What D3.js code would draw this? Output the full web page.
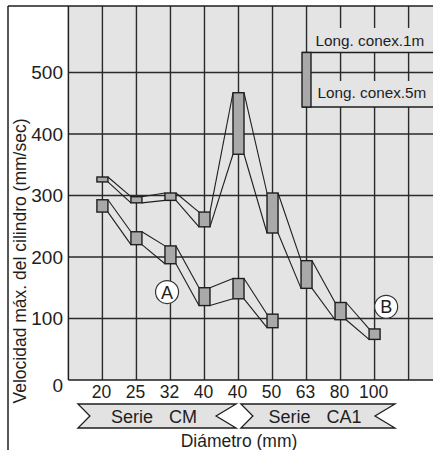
<!DOCTYPE html>
<html><head><meta charset="utf-8">
<script src="https://cdn.jsdelivr.net/npm/d3@7"></script>
<style>html,body{margin:0;padding:0;background:#fff;}svg{display:block;font-family:"Liberation Sans",Arial,Helvetica,sans-serif;}</style>
</head><body><div id="chart"></div>
<script>
// ---- data ----
const categories = ["20","25","32","40","40","50","63","80","100"];
// upper curve (B): top of box = Long. conex. 1m, bottom = Long. conex. 5m
const seriesB_1m = [330, 298, 304, 273, 467, 304, 194, 126, 83];
const seriesB_5m = [322, 288, 292, 249, 367, 239, 149, 98, 66];
// lower curve (A)
const seriesA_1m = [293, 241, 218, 150, 165, 107];
const seriesA_5m = [273, 220, 189, 121, 132, 85];
const yTicks = [0, 100, 200, 300, 400, 500];
const seriesNames = ["CM", "CA1"];
const seriesSpans = [[0.28, 4.93], [5.07, 9.6]];
const legendLabels = ["Long. conex.1m", "Long. conex.5m"];
const yTitle = "Velocidad máx. del cilindro (mm/sec)";
const xTitle = "Diámetro (mm)";

// ---- layout ----
const W = 433, H = 450;
const pL = 68.4, pT = 6, pB = 380, pR = 433;
const plotBg = "#e4e4e4", boxFill = "#a9a9a9", ink = "#1e1e1e";

const x = d3.scaleLinear().domain([0, 10]).range([pL, 408.6]);
const y = d3.scaleLinear().domain([0, 608]).range([pB, pT]);
const cx = i => x(i + 1);
const bw = 11;

const svg = d3.select("#chart").append("svg").attr("width", W).attr("height", H);

// plot background
svg.append("rect").attr("x", pL).attr("y", pT).attr("width", pR - pL).attr("height", pB - pT).attr("fill", plotBg);

// grid
const g = svg.append("g").attr("stroke", "#2a2a2a").attr("stroke-width", 1.4);
g.selectAll("line.v").data(d3.range(1, 11)).enter().append("line")
  .attr("x1", d => x(d)).attr("x2", d => x(d)).attr("y1", pT).attr("y2", pB);
g.selectAll("line.h").data(yTicks.filter(d => d > 0)).enter().append("line")
  .attr("x1", pL).attr("x2", pR).attr("y1", d => y(d)).attr("y2", d => y(d));

// legend (with plot-coloured background behind the labels)
const lg = svg.append("g");
lg.append("rect").attr("x", 313).attr("y", 28).attr("width", 120).attr("height", 24).attr("fill", plotBg);
lg.append("rect").attr("x", 314).attr("y", 81).attr("width", 119).attr("height", 26).attr("fill", plotBg);
lg.append("line").attr("x1", 302).attr("x2", pR).attr("y1", 52.5).attr("y2", 52.5).attr("stroke", ink).attr("stroke-width", 1.4);
lg.append("line").attr("x1", 302).attr("x2", pR).attr("y1", 107).attr("y2", 107).attr("stroke", ink).attr("stroke-width", 1.4);
lg.append("rect").attr("x", 302).attr("y", 52.5).attr("width", 9).attr("height", 54.5)
  .attr("fill", boxFill).attr("stroke", ink).attr("stroke-width", 1.4);
lg.append("text").attr("x", 315.5).attr("y", 46).attr("font-size", 15.3).attr("fill", ink).text(legendLabels[0]);
lg.append("text").attr("x", 317.5).attr("y", 97.5).attr("font-size", 15.3).attr("fill", ink).text(legendLabels[1]);

// bands
function drawBand(hi, lo) {
  const n = hi.length;
  const bg = svg.append("g");
  const segs = [];
  for (let i = 0; i < n - 1; i++) {
    segs.push([cx(i) + bw / 2, y(hi[i]), cx(i + 1) - bw / 2, y(hi[i + 1])]);
    segs.push([cx(i) + bw / 2, y(lo[i]), cx(i + 1) - bw / 2, y(lo[i + 1])]);
  }
  bg.selectAll("line").data(segs).enter().append("line")
    .attr("x1", d => d[0]).attr("y1", d => d[1]).attr("x2", d => d[2]).attr("y2", d => d[3])
    .attr("stroke", ink).attr("stroke-width", 1.1);
  bg.selectAll("rect").data(d3.range(n)).enter().append("rect")
    .attr("x", i => cx(i) - bw / 2).attr("width", bw)
    .attr("y", i => y(hi[i])).attr("height", i => y(lo[i]) - y(hi[i]))
    .attr("fill", boxFill).attr("stroke", ink).attr("stroke-width", 1.4);
}
drawBand(seriesB_1m, seriesB_5m);
drawBand(seriesA_1m, seriesA_5m);

// circled labels
const marks = [{t: "A", i: 2.9, v: 143}, {t: "B", i: 9.34, v: 119}];
const mg = svg.append("g");
marks.forEach(m => {
  mg.append("circle").attr("cx", x(m.i)).attr("cy", y(m.v)).attr("r", 11.5)
    .attr("fill", "#fff").attr("stroke", "#333").attr("stroke-width", 1.2);
  mg.append("text").attr("x", x(m.i)).attr("y", y(m.v)).attr("dy", "0.36em")
    .attr("text-anchor", "middle").attr("font-size", 18).attr("fill", ink).text(m.t);
});

// axis lines and frame
svg.append("line").attr("x1", pL).attr("x2", pL).attr("y1", pT).attr("y2", pB).attr("stroke", ink).attr("stroke-width", 1.5);
svg.append("line").attr("x1", pL).attr("x2", pR).attr("y1", pB).attr("y2", pB).attr("stroke", ink).attr("stroke-width", 1.5);
svg.append("line").attr("x1", 8).attr("x2", W).attr("y1", 6).attr("y2", 6).attr("stroke", ink).attr("stroke-width", 1.5);
svg.append("line").attr("x1", 8).attr("x2", 8).attr("y1", 6).attr("y2", H).attr("stroke", ink).attr("stroke-width", 1.5);

// y tick labels
svg.append("g").selectAll("text").data(yTicks).enter().append("text")
  .attr("x", 63).attr("y", d => d === 0 ? 385 : y(d)).attr("dy", "0.36em")
  .attr("text-anchor", "end").attr("font-size", 19).attr("fill", ink).text(d => d);

// x tick labels
svg.append("g").selectAll("text").data(categories).enter().append("text")
  .attr("x", (d, i) => cx(i) - 1).attr("y", 398)
  .attr("text-anchor", "middle").attr("font-size", 17.5).attr("fill", ink).text(d => d);

// series banners
const bTop = 404, bBot = 428, bMid = (bTop + bBot) / 2;
seriesNames.forEach((name, k) => {
  const L = x(seriesSpans[k][0]), R = x(seriesSpans[k][1]);
  const pts = [[L, bTop], [R, bTop], [R - 20, bMid], [R, bBot], [L, bBot], [L + 12, bMid]];
  svg.append("polygon").attr("points", pts.map(p => p.join(",")).join(" "))
    .attr("fill", "#e2e2e2").attr("stroke", ink).attr("stroke-width", 1.3);
  const t = svg.append("text").attr("x", (L + R) / 2 - 3).attr("y", 423)
    .attr("text-anchor", "middle").attr("font-size", 18).attr("fill", ink);
  t.append("tspan").text("Serie");
  t.append("tspan").attr("dx", 16).text(name);
});

// axis titles
svg.append("text").attr("x", 239).attr("y", 446.5).attr("text-anchor", "middle")
  .attr("font-size", 17.5).attr("fill", ink).text(xTitle);
svg.append("text").attr("transform", "translate(26,261) rotate(-90)").attr("text-anchor", "middle")
  .attr("font-size", 17.5).attr("fill", ink).text(yTitle);
</script></body></html>
